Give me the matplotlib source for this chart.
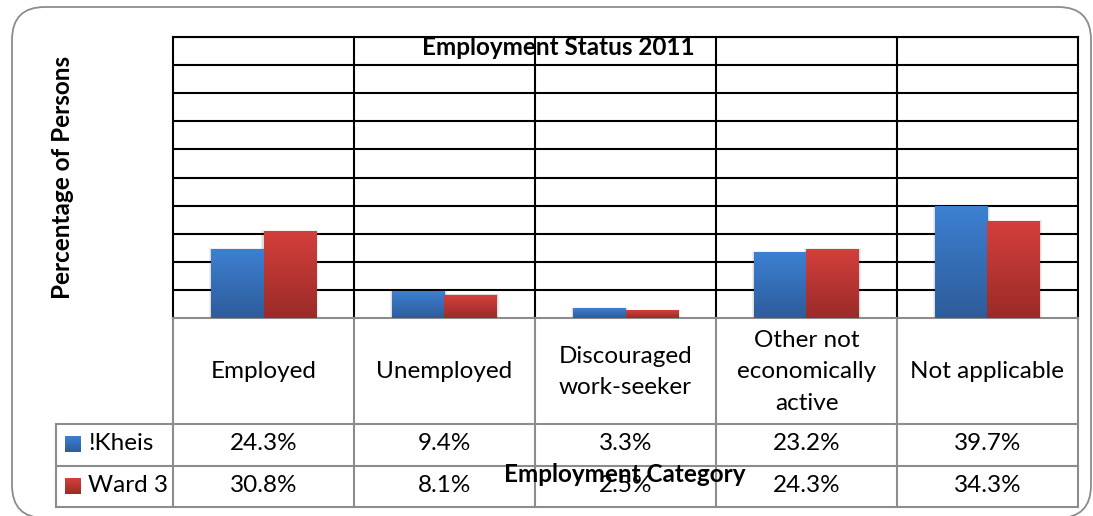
import numpy as np
import matplotlib.pyplot as plt
from matplotlib.patches import FancyBboxPatch
from matplotlib.lines import Line2D
from matplotlib.colors import LinearSegmentedColormap

categories = ["Employed", "Unemployed", "Discouraged\nwork-seeker",
              "Other not\neconomically\nactive", "Not applicable"]
series_names = ["!Kheis", "Ward 3"]
kheis = [24.3, 9.4, 3.3, 23.2, 39.7]
ward3 = [30.8, 8.1, 2.5, 24.3, 34.3]

plt.rcParams['font.family'] = ['Lato', 'DejaVu Sans']

W, H = 1093, 516
fig = plt.figure(figsize=(W / 100, H / 100), dpi=100)


def fx(px):
    return px / W


def fy(py):
    return 1 - py / H


# outer rounded border
fig.patches.append(FancyBboxPatch((fx(12), fy(518)), fx(1091) - fx(12), (518 - 7) / H,
                                  boxstyle="round,pad=0,rounding_size=0.03",
                                  transform=fig.transFigure, fill=False,
                                  edgecolor='#8c8c8c', lw=1.3, mutation_aspect=W / H))

ax = fig.add_axes([fx(173), fy(318), fx(1078) - fx(173), (318 - 37) / H])

blue = LinearSegmentedColormap.from_list('b', ['#2d5c9a', '#3d80d2'])
red = LinearSegmentedColormap.from_list('r', ['#9a2b29', '#d43f3b'])
grad = np.linspace(0, 1, 256).reshape(-1, 1)

x = np.arange(len(categories)) + 0.5
bw = 0.29
for vals, off, cmap in [(kheis, -bw / 2, blue), (ward3, bw / 2, red)]:
    bars = ax.bar(x + off, vals, bw, color='none', zorder=3)
    for b in bars:
        x0, h = b.get_x(), b.get_height()
        # soft shadow
        for k, a in [(0.012, 0.06), (0.007, 0.08)]:
            ax.add_patch(plt.Rectangle((x0 - k, 0), bw + 2 * k, h + k * 40,
                                       color='black', alpha=a, lw=0, zorder=2.5))
        ax.imshow(grad, extent=[x0, x0 + bw, 0, h], aspect='auto', cmap=cmap,
                  origin='lower', zorder=3)

ax.set_xlim(0, len(categories))
ax.set_ylim(0, 100)
ax.set_yticks(np.arange(10, 101, 10))
ax.set_xticks(np.arange(1, len(categories)))
ax.grid(True, color='black', lw=1.5, zorder=1)
ax.tick_params(length=0, labelleft=False, labelbottom=False)
for s in ['top', 'left', 'right']:
    ax.spines[s].set_color('black')
    ax.spines[s].set_linewidth(1.5)
ax.spines['bottom'].set_color('#8c8c8c')
ax.spines['bottom'].set_linewidth(1.5)

# data table
gray = '#8c8c8c'
col_edges = [173 + 181 * i for i in range(len(categories) + 1)]
for yy in [424, 466, 507]:
    fig.lines.append(Line2D([fx(56), fx(1078)], [fy(yy), fy(yy)], color=gray, lw=1.5,
                            transform=fig.transFigure))
for xx in col_edges:
    fig.lines.append(Line2D([fx(xx), fx(xx)], [fy(318), fy(507)], color=gray, lw=1.5,
                            transform=fig.transFigure))
fig.lines.append(Line2D([fx(56), fx(56)], [fy(424), fy(507)], color=gray, lw=1.5,
                        transform=fig.transFigure))

fs = 17.5
for i, cat in enumerate(categories):
    cx = (col_edges[i] + col_edges[i + 1]) / 2
    fig.text(fx(cx), fy(372), cat, ha='center', va='center', fontsize=fs,
             linespacing=1.62)
    fig.text(fx(cx), fy(443), f"{kheis[i]:.1f}%", ha='center', va='center', fontsize=fs)
    fig.text(fx(cx), fy(486), f"{ward3[i]:.1f}%", ha='center', va='center', fontsize=fs)

for name, yc, cmap in [(series_names[0], 444, blue), (series_names[1], 486, red)]:
    lax = fig.add_axes([fx(65), fy(yc + 8), fx(81) - fx(65), 16 / H])
    lax.imshow(grad, extent=[0, 1, 0, 1], aspect='auto', cmap=cmap, origin='lower')
    lax.axis('off')
    fig.text(fx(88), fy(yc), name, ha='left', va='center', fontsize=fs)

fig.text(fx(558), fy(48), "Employment Status 2011", ha='center', va='center',
         fontsize=fs, fontweight='bold', zorder=5)
fig.text(fx(625), fy(475), "Employment Category", ha='center', va='center',
         fontsize=fs, fontweight='bold', zorder=5)
fig.text(fx(63), fy(177), "Percentage of Persons", ha='center', va='center',
         fontsize=fs, fontweight='bold', rotation=90)

fig.savefig('out.png', dpi=100)
